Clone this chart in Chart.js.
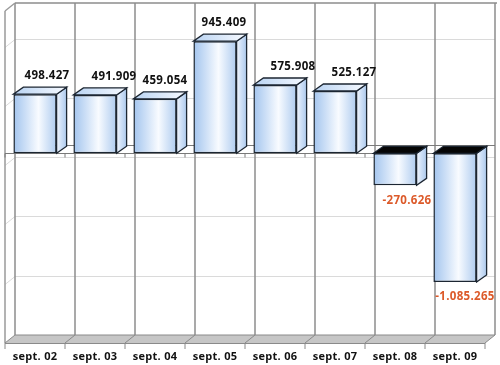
<!DOCTYPE html>
<html>
<head>
<meta charset="utf-8">
<script src="https://cdn.jsdelivr.net/npm/chart.js@4"></script>
<style>
  html, body { margin: 0; padding: 0; background: #fff; }
  #wrap { width: 500px; height: 365px; }
</style>
</head>
<body>
<div id="wrap"><canvas id="barChart" width="500" height="365"></canvas></div>
<script>
// values
const categories = ['sept. 02', 'sept. 03', 'sept. 04', 'sept. 05', 'sept. 06', 'sept. 07', 'sept. 08', 'sept. 09'];
const amounts = [498427, 491909, 459054, 945409, 575908, 525127, -270626, -1085265];
const yMin = -1600000;
const yMax = 1200000;
const yStep = 500000;

const BAR_PCT = 0.72;
const WALL = { dx: 10, dy: -8 };
const BAR = { dx: 10, dy: -7 };

function fmt(v) {
    const s = Math.abs(v).toString().replace(/\B(?=(\d{3})+(?!\d))/g, '.');
    return (v < 0 ? '-' : '') + s;
}

function line(ctx, x1, y1, x2, y2) {
    ctx.beginPath();
    ctx.moveTo(x1, y1);
    ctx.lineTo(x2, y2);
    ctx.stroke();
}

function poly(ctx, pts) {
    ctx.beginPath();
    ctx.moveTo(pts[0][0], pts[0][1]);
    for (let i = 1; i < pts.length; i++) ctx.lineTo(pts[i][0], pts[i][1]);
    ctx.closePath();
}

// front face gradient, placed with the x scale
function frontFill(c) {
    const chart = c.chart;
    const area = chart.chartArea;
    if (!area || c.dataIndex === undefined) return '#bcd4f2';
    const cx = chart.scales.x.getPixelForValue(c.dataIndex);
    const w = (area.right - area.left) / categories.length * BAR_PCT;
    const g = chart.ctx.createLinearGradient(cx - w / 2, 0, cx + w / 2, 0);
    g.addColorStop(0, '#a2c4ee');
    g.addColorStop(0.58, '#f8fbff');
    g.addColorStop(1, '#aecbef');
    return g;
}

const box3d = {
    id: 'box3d',
    beforeDatasetsDraw(chart) {
        const ctx = chart.ctx;
        const { left, right, top, bottom } = chart.chartArea;
        const ys = chart.scales.y;
        const n = categories.length;
        const cw = (right - left) / n;
        const { dx, dy } = WALL;
        ctx.save();

        // floor
        poly(ctx, [[left, bottom], [right, bottom], [right + dx, bottom + dy], [left + dx, bottom + dy]]);
        ctx.fillStyle = '#c6c6c6';
        ctx.fill();

        // horizontal grid on back wall and left wall
        ctx.strokeStyle = '#dadada';
        ctx.lineWidth = 1;
        for (let v = yMin + yStep; v < yMax; v += yStep) {
            const y = Math.round(ys.getPixelForValue(v)) + 0.5;
            line(ctx, left + dx, y + dy, right + dx, y + dy);
            line(ctx, left, y, left + dx, y + dy);
        }

        // back wall outline and category dividers
        ctx.strokeStyle = '#8c8c8c';
        ctx.lineWidth = 1.5;
        line(ctx, left + dx, top + dy, right + dx + 2, top + dy);
        for (let i = 0; i <= n; i++) {
            const xb = left + i * cw + dx;
            line(ctx, xb, top + dy, xb, bottom + dy);
        }
        // left wall
        ctx.strokeStyle = '#9a9a9a';
        line(ctx, left, top, left, bottom);
        line(ctx, left, top, left + dx, top + dy);

        // floor edges, diagonals and ticks
        ctx.strokeStyle = '#8a8a8a';
        ctx.lineWidth = 1;
        line(ctx, left + dx, bottom + dy, right + dx, bottom + dy);
        line(ctx, left, bottom + 0.5, right, bottom + 0.5);
        for (let i = 0; i <= n; i++) {
            const xb = left + i * cw;
            line(ctx, xb, bottom, xb + dx, bottom + dy);
            line(ctx, xb, bottom, xb, bottom + 6);
        }

        // zero lines (back and front)
        const y0 = Math.round(ys.getPixelForValue(0)) + 0.5;
        ctx.strokeStyle = '#7a7a7a';
        line(ctx, left + dx, y0 + dy, right + dx, y0 + dy);
        line(ctx, left, y0, right, y0);
        for (let i = 0; i <= n; i++) {
            const xb = left + i * cw;
            line(ctx, xb, y0, xb, y0 + 4);
        }

        // bar top and side faces
        const meta = chart.getDatasetMeta(0);
        meta.data.forEach((bar, i) => {
            const x1 = bar.x - bar.width / 2;
            const x2 = bar.x + bar.width / 2;
            const yT = Math.min(bar.y, bar.base);
            const yB = Math.max(bar.y, bar.base);
            const bdx = BAR.dx, bdy = BAR.dy;

            const sg = ctx.createLinearGradient(x2, 0, x2 + bdx, 0);
            sg.addColorStop(0, '#f3f7fe');
            sg.addColorStop(0.45, '#cfe0f6');
            sg.addColorStop(1, '#adcaee');
            poly(ctx, [[x2, yT], [x2 + bdx, yT + bdy], [x2 + bdx, yB + bdy], [x2, yB]]);
            ctx.fillStyle = sg;
            ctx.fill();
            ctx.strokeStyle = '#1c2632';
            ctx.lineWidth = 1.3;
            ctx.stroke();

            poly(ctx, [[x1, yT], [x2, yT], [x2 + bdx, yT + bdy], [x1 + bdx, yT + bdy]]);
            if (amounts[i] >= 0) {
                const tg = ctx.createLinearGradient(x1, 0, x2 + bdx, 0);
                tg.addColorStop(0, '#b9d3f2');
                tg.addColorStop(1, '#f7faff');
                ctx.fillStyle = tg;
            } else {
                ctx.fillStyle = '#050505';
            }
            ctx.fill();
            ctx.stroke();
        });
        ctx.restore();
    },
    afterDatasetsDraw(chart) {
        const ctx = chart.ctx;
        const { bottom } = chart.chartArea;
        const xs = chart.scales.x;
        const meta = chart.getDatasetMeta(0);
        ctx.save();
        ctx.textAlign = 'center';
        ctx.textBaseline = 'middle';
        ctx.font = 'bold 11.5px "Open Sans", sans-serif';
        if ('letterSpacing' in ctx) ctx.letterSpacing = '0.3px';
        const nudge = [12, 19, 10, 9, 18, 19, 12, 10];
        meta.data.forEach((bar, i) => {
            const v = amounts[i];
            if (v >= 0) {
                ctx.fillStyle = '#111111';
                ctx.fillText(fmt(v), bar.x + nudge[i], bar.y - 18);
            } else {
                ctx.fillStyle = '#dc5a2a';
                ctx.fillText(fmt(v), bar.x + nudge[i], bar.y + 15);
            }
        });
        ctx.fillStyle = '#111111';
        ctx.font = 'bold 11px "Open Sans", sans-serif';
        if ('letterSpacing' in ctx) ctx.letterSpacing = '0.3px';
        categories.forEach((c, i) => {
            ctx.fillText(c, xs.getPixelForValue(i), bottom + 14);
        });
        ctx.restore();
    }
};

new Chart(document.getElementById('barChart'), {
    type: 'bar',
    data: {
        labels: categories,
        datasets: [{
            data: amounts,
            backgroundColor: frontFill,
            borderColor: '#1c2632',
            borderWidth: 1.5,
            borderSkipped: false,
            barPercentage: BAR_PCT,
            categoryPercentage: 1
        }]
    },
    options: {
        responsive: false,
        animation: false,
        layout: { padding: { left: 5, right: 15, top: 11, bottom: 22 } },
        scales: {
            x: { display: false },
            y: { display: false, min: yMin, max: yMax }
        },
        plugins: {
            legend: { display: false },
            tooltip: { enabled: false }
        }
    },
    plugins: [box3d]
});
</script>
</body>
</html>
